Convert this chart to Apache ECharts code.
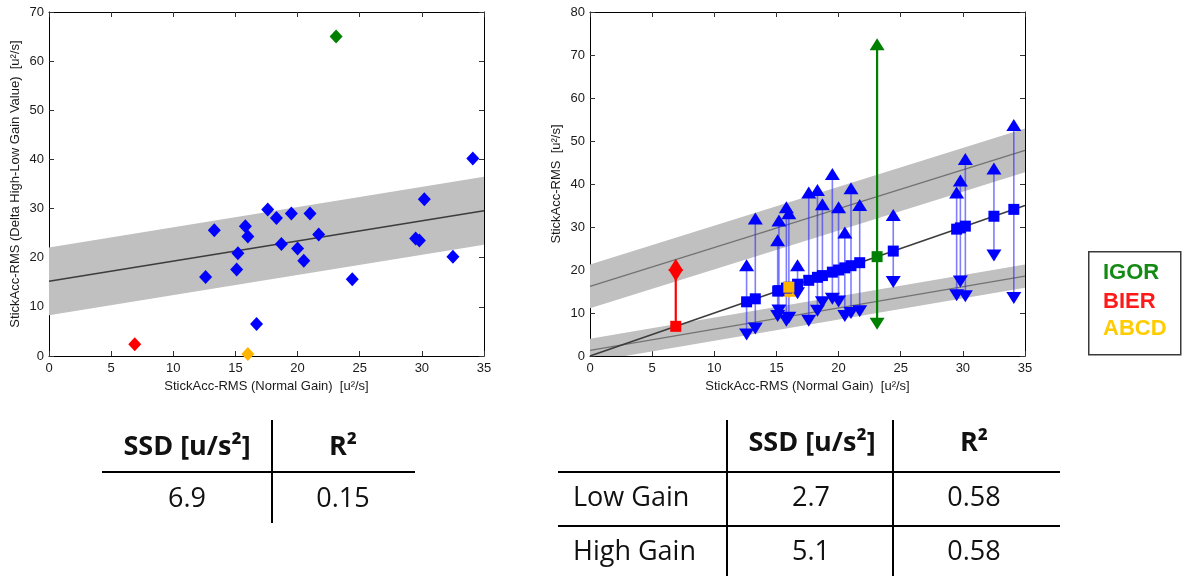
<!DOCTYPE html>
<html>
<head>
<meta charset="utf-8">
<script src="https://cdn.jsdelivr.net/npm/echarts@6/dist/echarts.min.js"></script>
<style>
  html, body { margin: 0; padding: 0; background: #fff; }
  #chart { width: 1184px; height: 576px; }
</style>
</head>
<body>
<div id="chart"></div>
<script>
// Per-subject stick acceleration RMS [u²/s]
const normalGain = [12.6, 13.3, 15.1, 15.2, 15.8, 16.0, 16.7, 17.6, 18.3, 18.7, 19.5, 20.0, 20.5, 21.0, 21.7, 24.4, 29.5, 29.8, 30.2, 32.5, 34.1, 23.1, 6.9, 16.0];
const highGain   = [21.1, 32.0, 26.9, 31.5, 34.6, 33.2, 21.1, 38.0, 38.6, 35.3, 42.3, 34.6, 28.7, 39.0, 35.1, 32.8, 38.0, 40.8, 45.8, 43.6, 53.7, 72.5, 21.2, 15.2];
const lowGain    = [ 5.0,  6.4,  9.3, 10.6,  8.2,  8.9, 14.6,  8.2, 10.5, 12.5, 13.3, 12.7,  9.3, 10.0, 10.4, 17.2, 14.1, 17.3, 13.9, 23.4, 13.5,  7.5, 18.8, 14.8];
const highlight  = ['', '', '', '', '', '', '', '', '', '', '', '', '', '', '', '', '', '', '', '', '', 'IGOR', 'BIER', 'ABCD'];

const legendNames  = ['IGOR', 'BIER', 'ABCD'];
const markerColors = ['#008000', '#ff0000', '#ffb400'];
const legendColors = ['#138a13', '#ff1a1a', '#ffcc00'];

// Linear fits: [intercept, slope]
const deltaFit = [15.2, 0.41];
const lowFit   = [1.3, 0.494];
const highFit  = [16.2, 0.903];

// Statistics tables
const tableHeader   = ['SSD [u/s²]', 'R²'];
const deltaStats    = ['6.9', '0.15'];
const gainRows      = ['Low Gain', 'High Gain'];
const lowGainStats  = ['2.7', '0.58'];
const highGainStats = ['5.1', '0.58'];

const xRange = [0, 35];
const xLabel = 'StickAcc-RMS (Normal Gain)  [u²/s]';
const yLabelDelta = 'StickAcc-RMS (Delta High-Low Gain Value)  [u²/s]';
const yLabelGain = 'StickAcc-RMS  [u²/s]';

const deltaGain = highGain.map((h, i) => +(h - lowGain[i]).toFixed(2));

function colorOf(i) {
  const k = legendNames.indexOf(highlight[i]);
  return k < 0 ? '#0000ff' : markerColors[k];
}

const AXIS_FONT = 'Liberation Sans, Arial, sans-serif';
const TABLE_FONT = 'Open Sans, sans-serif';

function xAxes(grid) {
  const base = {
    gridIndex: grid, type: 'value', min: xRange[0], max: xRange[1], interval: 5,
    axisLine: { show: true, onZero: false, lineStyle: { color: '#000', width: 1 } },
    axisTick: { show: true, inside: true, length: 5, lineStyle: { color: '#333' } },
    splitLine: { show: false }
  };
  return [
    Object.assign({}, base, {
      position: 'bottom',
      axisLabel: { fontSize: 13, color: '#1a1a1a', margin: 6, fontFamily: AXIS_FONT },
      name: xLabel, nameLocation: 'middle', nameGap: 22,
      nameTextStyle: { fontSize: 13, color: '#1a1a1a', fontFamily: AXIS_FONT }
    }),
    Object.assign({}, base, { position: 'top', axisLabel: { show: false } })
  ];
}

function yAxes(grid, max, name) {
  const base = {
    gridIndex: grid, type: 'value', min: 0, max: max, interval: 10,
    axisLine: { show: true, onZero: false, lineStyle: { color: '#000', width: 1 } },
    axisTick: { show: true, inside: true, length: 5, lineStyle: { color: '#333' } },
    splitLine: { show: false }
  };
  return [
    Object.assign({}, base, {
      position: 'left',
      axisLabel: { fontSize: 13, color: '#1a1a1a', margin: 5, fontFamily: AXIS_FONT },
      name: name, nameLocation: 'middle', nameGap: 27,
      nameTextStyle: { fontSize: 13, color: '#1a1a1a', fontFamily: AXIS_FONT }
    }),
    Object.assign({}, base, { position: 'right', axisLabel: { show: false } })
  ];
}

// Shaded band of ±half around a fitted line, clipped to the plot area
function bandSeries(xi, yi, fit, half) {
  return {
    type: 'custom', xAxisIndex: xi, yAxisIndex: yi, clip: true, silent: true, z: 1,
    data: [[xRange[0], xRange[1]]],
    renderItem: function (params, api) {
      const f = x => fit[0] + fit[1] * x;
      const a = xRange[0], b = xRange[1];
      const pts = [[a, f(a) - half], [b, f(b) - half], [b, f(b) + half], [a, f(a) + half]].map(p => api.coord(p));
      return { type: 'polygon', shape: { points: pts }, style: { fill: '#c0c0c0', stroke: null } };
    }
  };
}

function fitLine(xi, yi, fit, color, width) {
  return {
    type: 'line', xAxisIndex: xi, yAxisIndex: yi, silent: true, symbol: 'none', z: 2,
    lineStyle: { color: color, width: width },
    data: xRange.map(x => [x, fit[0] + fit[1] * x])
  };
}

const chart = echarts.init(document.getElementById('chart'));

const series = [
  // Left: delta (high - low) against normal gain
  bandSeries(0, 0, deltaFit, parseFloat(deltaStats[0])),
  fitLine(0, 0, deltaFit, '#3c3c3c', 1.6),
  {
    type: 'scatter', xAxisIndex: 0, yAxisIndex: 0, symbol: 'diamond', symbolSize: [13, 14], z: 5,
    itemStyle: { color: p => colorOf(p.dataIndex), opacity: 1 },
    data: normalGain.map((x, i) => [x, deltaGain[i]])
  },
  // Right: low / high gain against normal gain
  bandSeries(2, 2, highFit, parseFloat(highGainStats[0])),
  bandSeries(2, 2, lowFit, parseFloat(lowGainStats[0])),
  fitLine(2, 2, highFit, '#727272', 1.3),
  fitLine(2, 2, lowFit, '#727272', 1.3),
  fitLine(2, 2, [0, 1], '#3c3c3c', 1.6),
  {
    type: 'custom', xAxisIndex: 2, yAxisIndex: 2, silent: true, z: 3,
    data: normalGain.map((x, i) => [x, Math.min(lowGain[i], x), Math.max(highGain[i], x)]),
    renderItem: function (params, api) {
      const x = api.value(0);
      const p1 = api.coord([x, api.value(1)]);
      const p2 = api.coord([x, api.value(2)]);
      const special = highlight[params.dataIndex] !== '';
      return {
        type: 'line',
        shape: { x1: p1[0], y1: p1[1], x2: p2[0], y2: p2[1] },
        style: {
          stroke: special ? colorOf(params.dataIndex) : 'rgba(40,40,255,0.6)',
          lineWidth: special ? 2.2 : 1.6
        }
      };
    }
  },
  {
    type: 'scatter', xAxisIndex: 2, yAxisIndex: 2, symbol: 'triangle', symbolSize: [15, 12], z: 4,
    itemStyle: { color: p => colorOf(p.dataIndex), opacity: 1 },
    data: normalGain.map((x, i) => [x, highGain[i]])
  },
  {
    type: 'scatter', xAxisIndex: 2, yAxisIndex: 2, symbol: 'triangle', symbolRotate: 180, symbolSize: [15, 12], z: 4,
    itemStyle: { color: p => colorOf(p.dataIndex), opacity: 1 },
    data: normalGain.map((x, i) => [x, lowGain[i]])
  },
  {
    type: 'scatter', xAxisIndex: 2, yAxisIndex: 2, symbol: 'rect', symbolSize: 11, z: 5,
    itemStyle: { color: p => colorOf(p.dataIndex), opacity: 1 },
    data: normalGain.map(x => [x, x])
  }
];

// Legend box and statistics tables
const graphics = [];
graphics.push({
  type: 'rect', left: 1088, top: 251, shape: { width: 92, height: 103 },
  style: { fill: '#fff', stroke: '#3a3a3a', lineWidth: 1.5 }
});
const legendY = [272.5, 301.5, 328.5];
legendNames.forEach((n, i) => {
  graphics.push({
    type: 'text', x: 1103, y: legendY[i],
    style: { text: n, fill: legendColors[i], font: 'bold 22px Liberation Sans, Arial, sans-serif', textVerticalAlign: 'middle', textAlign: 'left' }
  });
});

function tText(str, x, y, bold, align) {
  graphics.push({
    type: 'text', x: x, y: y,
    style: {
      text: str, fill: '#111', textAlign: align || 'center', textVerticalAlign: 'middle',
      font: (bold ? 'bold ' : '') + '27px ' + TABLE_FONT
    }
  });
}
function tLine(x1, y1, x2, y2) {
  graphics.push({ type: 'line', shape: { x1, y1, x2, y2 }, style: { stroke: '#000', lineWidth: 2 } });
}

// Table under the delta chart
tLine(102, 472, 415, 472);
tLine(272, 420, 272, 523);
tText(tableHeader[0], 187, 447, true);
tText(tableHeader[1], 343, 447, true);
tText(deltaStats[0], 187, 499, false);
tText(deltaStats[1], 343, 499, false);

// Table under the gain chart
tLine(558, 472, 1060, 472);
tLine(558, 526, 1060, 526);
tLine(727, 420, 727, 576);
tLine(893, 420, 893, 576);
tText(tableHeader[0], 812, 443, true);
tText(tableHeader[1], 974, 443, true);
tText(gainRows[0], 573, 498, false, 'left');
tText(lowGainStats[0], 811, 498, false);
tText(lowGainStats[1], 974, 498, false);
tText(gainRows[1], 573, 552, false, 'left');
tText(highGainStats[0], 811, 552, false);
tText(highGainStats[1], 974, 552, false);

chart.setOption({
  animation: false,
  backgroundColor: '#fff',
  grid: [
    { left: 49, top: 12, width: 435, height: 344 },
    { left: 590, top: 12, width: 435, height: 344 }
  ],
  xAxis: [...xAxes(0), ...xAxes(1)],
  yAxis: [...yAxes(0, 70, yLabelDelta), ...yAxes(1, 80, yLabelGain)],
  series: series,
  graphic: graphics
});
</script>
</body>
</html>
